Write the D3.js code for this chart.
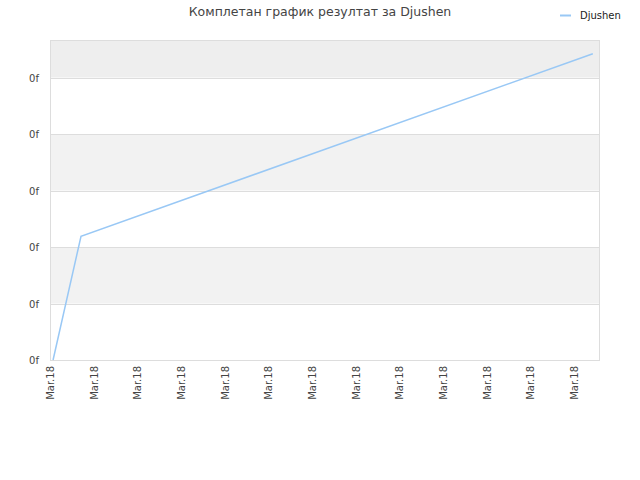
<!DOCTYPE html><html><head><meta charset="utf-8"><script src="https://cdn.jsdelivr.net/npm/d3@7"></script>
<style>body{margin:0;background:#fff}text{font-family:"DejaVu Sans",sans-serif}</style></head><body><svg id="c" width="640" height="480"></svg>
<script>
const xTicks=[0,1,2,3,4,5,6,7,8,9,10,11,12];
const xTickLabels=xTicks.map(()=> "Mar.18");
const seriesX=[0.07,0.71,12.43];
const seriesY=[0,2.19,5.42];
const yTicks=[0,1,2,3,4,5];
const yTickLabels=yTicks.map(()=> "0f");
const svg=d3.select("#c");
const L=50,R=600,T=40,B=360;
const x=d3.scaleLinear().domain([0,12.6]).range([L,L+12.6*43.67]);
const y=d3.scaleLinear().domain([0,5.664]).range([B,T]);
// bands
const bands=[[0,1,"#fff"],[1,2,"#f2f2f2"],[2,3,"#fff"],[3,4,"#f2f2f2"],[4,5,"#fff"],[5,5.664,"#eeeeee"]];
svg.selectAll("rect.b").data(bands).enter().append("rect").attr("x",L).attr("width",R-L)
 .attr("y",d=>y(d[1])).attr("height",d=>y(d[0])-y(d[1])).attr("fill",d=>d[2]);
svg.selectAll("line.g").data(yTicks.concat([5.664])).enter().append("line").attr("x1",L).attr("x2",R)
 .attr("y1",d=>Math.round(y(d))+0.5).attr("y2",d=>Math.round(y(d))+0.5).attr("stroke","#ddd");
svg.append("line").attr("x1",L+0.5).attr("x2",L+0.5).attr("y1",T).attr("y2",B).attr("stroke","#ddd");
svg.append("line").attr("x1",R-0.5).attr("x2",R-0.5).attr("y1",T).attr("y2",B).attr("stroke","#ddd");
svg.selectAll("text.y").data(yTicks).enter().append("text").attr("x",39).attr("y",d=>y(d)+4)
 .attr("text-anchor","end").attr("font-size",10).attr("fill","#444").text((d,i)=>yTickLabels[i]);
svg.selectAll("text.x").data(xTicks).enter().append("text")
 .attr("transform",d=>`translate(${x(d)+4},${B+6}) rotate(-90)`).attr("text-anchor","end")
 .attr("font-size",10).attr("fill","#444").text((d,i)=>xTickLabels[i]);
svg.append("path").datum(seriesX.map((v,i)=>[v,seriesY[i]])).attr("fill","none").attr("stroke","#99c8f5").attr("stroke-width",1.5)
 .attr("d",d3.line().x(d=>x(d[0])).y(d=>y(d[1])));
svg.append("text").attr("x",320).attr("y",16).attr("text-anchor","middle").attr("font-size",12.5).attr("fill","#444").text("Комплетан график резултат за Djushen");
svg.append("line").attr("x1",560).attr("x2",571).attr("y1",15.5).attr("y2",15.5).attr("stroke","#99c8f5").attr("stroke-width",2);
svg.append("text").attr("x",580).attr("y",19).attr("font-size",10).attr("fill","#222").text("Djushen");
</script></body></html>
